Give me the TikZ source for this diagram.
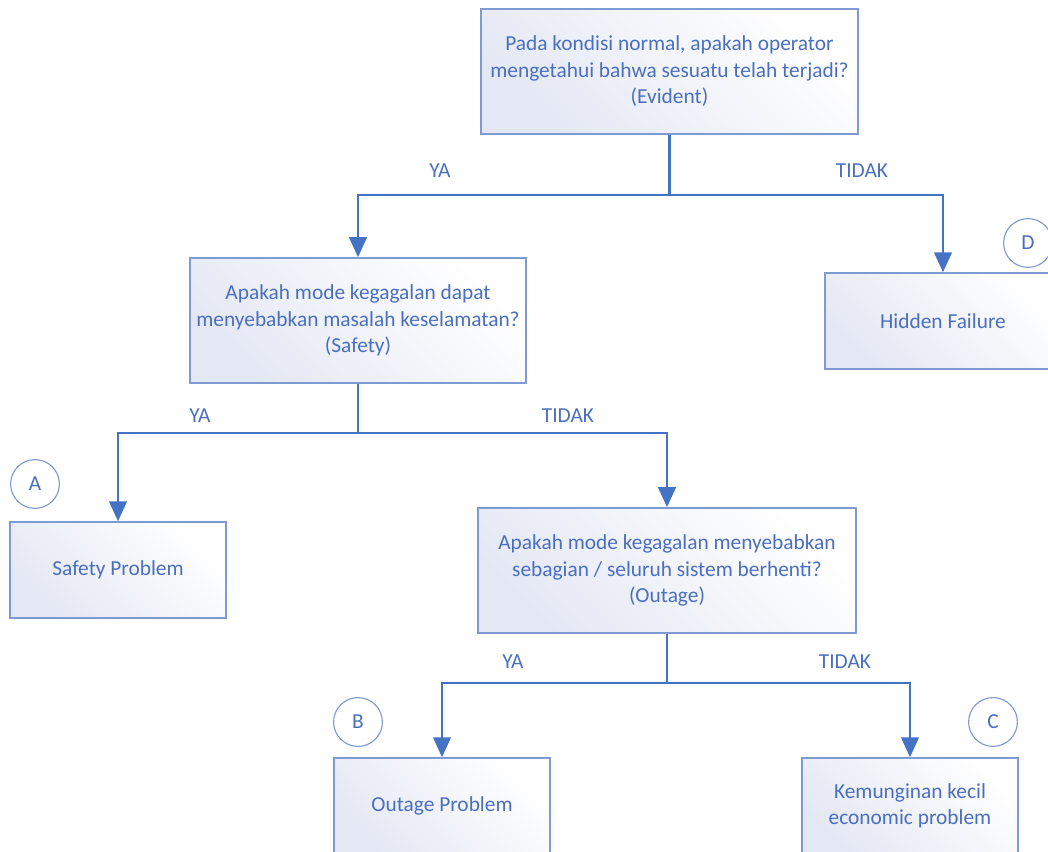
\documentclass[tikz,border=0pt]{standalone}
\usepackage{fontspec}
\setmainfont{Carlito}
\usetikzlibrary{calc,positioning,arrows.meta}

\definecolor{lineblue}{HTML}{4472C4}
\definecolor{boxline}{HTML}{7F9AD0}
\definecolor{boxfill}{HTML}{E4E8F4}
\definecolor{txtblue}{HTML}{4A6FC0}

\tikzset{
  qbox/.style = {draw = boxline, line width = 1pt, top color = boxfill, bottom color = white,
    shading angle = 135, text = txtblue, align = center, inner sep = 0pt,
    font = \fontsize{15.2}{18.8}\selectfont},
  tag/.style = {circle, draw = boxline, line width = 0.8pt, fill = white, text = txtblue,
    minimum size = 1.22cm, inner sep = 0pt, font = \fontsize{15.2}{18.8}\selectfont},
  lbl/.style = {text = txtblue, font = \fontsize{15.2}{18.8}\selectfont},
  flow/.style = {draw = lineblue, line width = 1.8pt},
  flowarr/.style = {flow, -{Triangle[length=0.5cm, width=0.44cm]}}
}

\begin{document}
\begin{tikzpicture}[x = 0.025cm, y = -0.025cm]
\useasboundingbox (0,0) rectangle (1048,852);
\begin{scope}
\clip (0,0) rectangle (1048,852);

% question boxes
\node[qbox, minimum width = 9.43cm, minimum height = 3.13cm] (evident) at (669.5,71.5)
  {Pada kondisi normal, apakah operator\\mengetahui bahwa sesuatu telah terjadi?\\(Evident)};
\node[qbox, minimum width = 8.4cm, minimum height = 3.13cm] (safety) at (358,320.5)
  {Apakah mode kegagalan dapat\\menyebabkan masalah keselamatan?\\(Safety)};
\node[qbox, minimum width = 9.45cm, minimum height = 3.13cm] (outage) at (667,570.5)
  {Apakah mode kegagalan menyebabkan\\sebagian / seluruh sistem berhenti?\\(Outage)};

% result boxes
\node[qbox, minimum width = 5.9cm, minimum height = 2.4cm] (hidden) at (943,321) {Hidden Failure};
\node[qbox, minimum width = 5.4cm, minimum height = 2.4cm] (safeprob) at (118,570) {Safety Problem};
\node[qbox, minimum width = 5.4cm, minimum height = 2.4cm] (outprob) at (442,806) {Outage Problem};
\node[qbox, minimum width = 5.4cm, minimum height = 2.4cm] (econ) at (910,806)
  {Kemunginan kecil\\economic problem};

% junctions
\coordinate (j1) at ($(evident.south)+(0,60)$);
\coordinate (j2) at ($(safety.south)+(0,49)$);
\coordinate (j3) at ($(outage.south)+(0,49)$);

\draw[flow] (evident.south) -- (j1);
\draw[flowarr] (j1) -| (safety.north);
\draw[flowarr] (j1) -| (hidden.north);
\draw[flow] (safety.south) -- (j2);
\draw[flowarr] (j2) -| (safeprob.north);
\draw[flowarr] (j2) -| (outage.north);
\draw[flow] (outage.south) -- (j3);
\draw[flowarr] (j3) -| (outprob.north);
\draw[flowarr] (j3) -| (econ.north);

% labels
\node[lbl] (ya1) at (440,171) {YA};
\node[lbl] (tidak1) at (862,171) {TIDAK};
\node[lbl] (ya2) at (200,416) {YA};
\node[lbl] (tidak2) at (568,416) {TIDAK};
\node[lbl] (ya3) at (513,662) {YA};
\node[lbl] (tidak3) at (845,662) {TIDAK};

% circles
\node[tag] (tagA) at (35,484) {A};
\node[tag] (tagB) at (358,722) {B};
\node[tag] (tagC) at (993,722) {C};
\node[tag] (tagD) at (1028,243) {D};
\end{scope}
\end{tikzpicture}
\end{document}
